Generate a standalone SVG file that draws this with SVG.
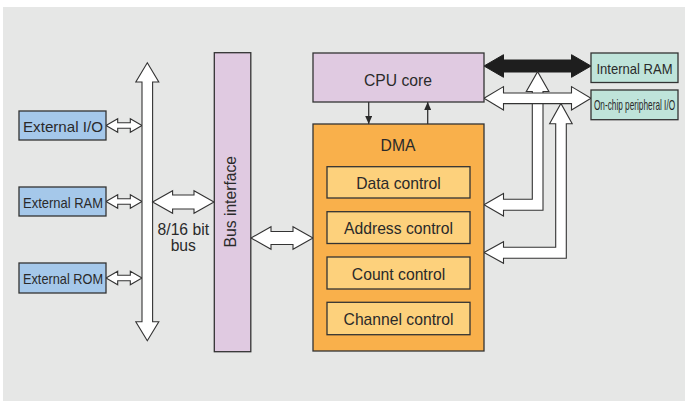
<svg xmlns="http://www.w3.org/2000/svg" width="685" height="401" viewBox="0 0 685 401">
<defs>
<style>
text{font-family:"Liberation Sans",Arial,sans-serif;fill:#2a2a2a;text-anchor:middle}
.box{stroke:#333;stroke-width:1.3}
.ext{fill:#a5c8ea}
.lav{fill:#e0cae1}
.dma{fill:#f9b04b}
.sub{fill:#fdd17c}
.teal{fill:#bfe4da}
.wa{fill:#fff;stroke:#333;stroke-width:1.1;stroke-linejoin:miter}
.ba{fill:#1e1e1e;stroke:#1e1e1e;stroke-width:1}
.ln{stroke:#333;stroke-width:1.3;fill:none}
.f15{font-size:15px}
.f14{font-size:14px}
.f16{font-size:15.7px}
</style>
<marker id="ah" viewBox="0 0 8 7" refX="8" refY="3.5" markerWidth="8" markerHeight="7" markerUnits="userSpaceOnUse" orient="auto">
<path d="M0 0 L8 3.5 L0 7 Z" fill="#2a2a2a"/>
</marker>
</defs>
<rect x="3" y="7" width="682" height="394" fill="#e6e7e6"/>

<g id="connectors">
<path class="wa" d="M106 125.5 L117.7 118.8 L117.7 122.8 L130.3 122.8 L130.3 118.8 L142 125.5 L130.3 132.2 L130.3 128.2 L117.7 128.2 L117.7 132.2 Z"/>
<path class="wa" d="M106 201.5 L117.7 194.8 L117.7 198.8 L130.3 198.8 L130.3 194.8 L142 201.5 L130.3 208.2 L130.3 204.2 L117.7 204.2 L117.7 208.2 Z"/>
<path class="wa" d="M106 278 L117.7 271.3 L117.7 275.3 L130.3 275.3 L130.3 271.3 L142 278 L130.3 284.7 L130.3 280.7 L117.7 280.7 L117.7 284.7 Z"/>
<path class="wa" d="M147.3 62.7 L158.8 82 L152.6 82 L152.6 321.7 L158.8 321.7 L147.3 340.7 L135.8 321.7 L142 321.7 L142 82 L135.8 82 Z"/>
<path class="wa" d="M152.6 202 L172.6 190.7 L172.6 195 L194 195 L194 190.7 L214 202 L194 213.3 L194 209 L172.6 209 L172.6 213.3 Z"/>
<path class="wa" d="M251 238 L271 226.7 L271 231.5 L293 231.5 L293 226.7 L313 238 L293 249.3 L293 244.5 L271 244.5 L271 249.3 Z"/>
<path class="ba" d="M484 66 L503.5 54.7 L503.5 60 L571.5 60 L571.5 54.7 L591 66 L571.5 77.3 L571.5 72 L503.5 72 L503.5 77.3 Z"/>
<path class="wa" d="M484 204.7 L503.5 193.4 L503.5 199.3 L532.3 199.3 L532.3 91.5 L526.3 91.5 L537.6 71.7 L548.9 91.5 L543 91.5 L543 210.2 L503.5 210.2 L503.5 216 Z"/>
<path class="wa" d="M484 252.5 L503.5 241.7 L503.5 247.3 L555.7 247.3 L555.7 123.8 L549.6 123.8 L560.9 103.5 L572.2 123.8 L566.3 123.8 L566.3 258.3 L503.5 258.3 L503.5 263.3 Z"/>
<path class="wa" d="M484 98.3 L503.5 86.6 L503.5 93 L571.5 93 L571.5 86.6 L591 98.3 L571.5 110 L571.5 103.6 L503.5 103.6 L503.5 110 Z"/>
<path class="ln" d="M368.7 102 L368.7 124" marker-end="url(#ah)"/>
<path class="ln" d="M427.7 124 L427.7 102" marker-end="url(#ah)"/>
</g>

<g id="external-io">
<rect class="box ext" x="19" y="111" width="87" height="29"/>
<text class="f15" x="63" y="131.5" textLength="80" lengthAdjust="spacingAndGlyphs">External I/O</text>
</g>
<g id="external-ram">
<rect class="box ext" x="19" y="187" width="87" height="29"/>
<text class="f15" x="63" y="207.5" textLength="80" lengthAdjust="spacingAndGlyphs">External RAM</text>
</g>
<g id="external-rom">
<rect class="box ext" x="19" y="263" width="87" height="30"/>
<text class="f15" x="63" y="284.2" textLength="80" lengthAdjust="spacingAndGlyphs">External ROM</text>
</g>
<g id="bus-label">
<text class="f16" x="183.3" y="235">8/16 bit</text>
<text class="f16" x="183.3" y="250.5">bus</text>
</g>
<g id="bus-interface">
<rect class="box lav" x="214.3" y="52.7" width="36.5" height="299"/>
<text class="f16" transform="translate(236 201.7) rotate(-90)" x="0" y="0">Bus interface</text>
</g>
<g id="cpu-core">
<rect class="box lav" x="313" y="53" width="171" height="49"/>
<text class="f16" x="398" y="86">CPU core</text>
</g>
<g id="dma">
<rect class="box dma" x="313" y="124" width="171" height="227"/>
<text class="f16" x="398" y="151">DMA</text>
</g>
<g id="data-control">
<rect class="box sub" x="327" y="166.7" width="143" height="31.3"/>
<text class="f16" x="398.5" y="189">Data control</text>
</g>
<g id="address-control">
<rect class="box sub" x="327" y="211.7" width="143" height="31.8"/>
<text class="f16" x="398.5" y="234.2">Address control</text>
</g>
<g id="count-control">
<rect class="box sub" x="327" y="257" width="143" height="32"/>
<text class="f16" x="398.5" y="279.7">Count control</text>
</g>
<g id="channel-control">
<rect class="box sub" x="327" y="302.3" width="143" height="32.4"/>
<text class="f16" x="398.5" y="325.2">Channel control</text>
</g>
<g id="internal-ram">
<rect class="box teal" x="591" y="53" width="87" height="29.5"/>
<text class="f15" x="634.5" y="73.5" textLength="76" lengthAdjust="spacingAndGlyphs">Internal RAM</text>
</g>
<g id="onchip-io">
<rect class="box teal" x="591" y="90" width="87" height="29.7"/>
<text class="f14" transform="translate(634.5 110) scale(0.59 1)" x="0" y="0">On-chip peripheral I/O</text>
</g>
</svg>
